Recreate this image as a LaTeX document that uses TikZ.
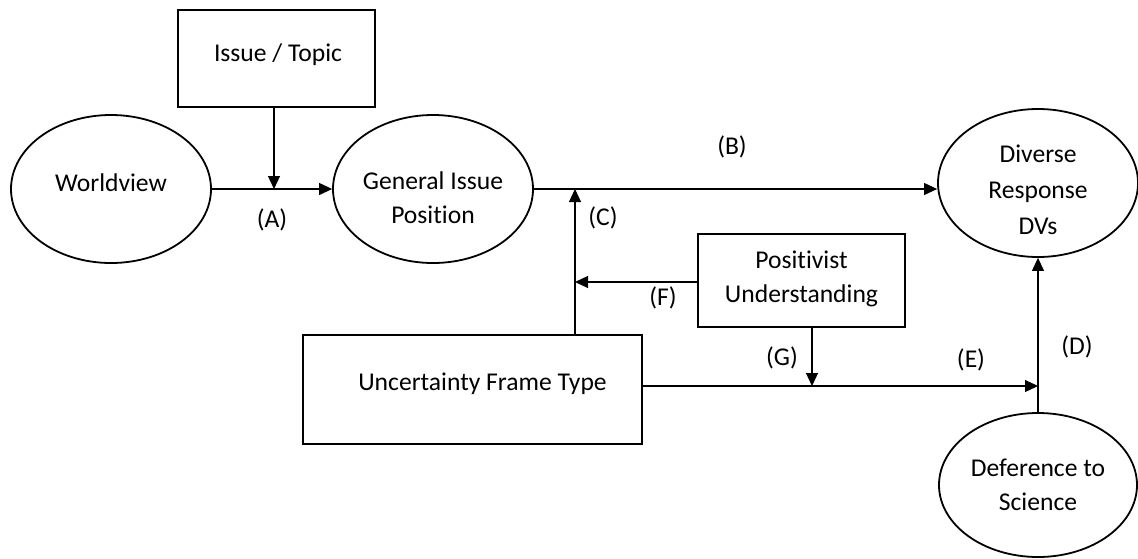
\documentclass[tikz,border=0pt]{standalone}
\usepackage{fontspec}
\setmainfont{Carlito}[Ligatures=NoCommon]
\usetikzlibrary{shapes.geometric,arrows.meta,calc}
\begin{document}
\begin{tikzpicture}[x=1pt,y=-1pt,
  every node/.style={font=\fontsize{25.6}{34}\selectfont},
  oval/.style={draw, ellipse, line width=1.8pt, minimum width=200pt, minimum height=148pt, inner sep=0pt},
  box/.style={draw, rectangle, line width=1.8pt, inner sep=0pt},
  txt/.style={align=center, inner sep=0pt},
  link/.style={line width=1.1pt},
  arr/.style={link, -{Triangle[length=13pt,width=12pt]}},
  tag/.style={inner sep=0pt}
]
\useasboundingbox (0,0) rectangle (1138,558);

% shapes
\node[oval] (wv)  at (111,189) {};
\node[oval] (gip) at (433,189) {};
\node[oval] (dvs) at (1038,183) {};
\node[oval, minimum width=198pt, minimum height=144pt] (def) at (1038,485) {};
\node[box, minimum width=197pt, minimum height=97pt]  (issue) at (276.5,58.5) {};
\node[box, minimum width=207pt, minimum height=93pt]  (pos)   at (801.5,280.5) {};
\node[box, minimum width=339pt, minimum height=109pt] (uft)   at (472.5,389.5) {};

% texts inside the shapes
\node[txt] (wv-t)    at ($(wv)+(0,-6)$)      {Worldview};
\node[txt] (gip-t)   at ($(gip)+(0,8.5)$)    {General Issue\\Position};
\node[txt] (dvs-t)   at ($(dvs)+(0,7)$)      {Diverse\\[2pt]Response\\[2pt]DVs};
\node[txt] (def-t)   at (def)                {Deference to\\Science};
\node[txt] (issue-t) at ($(issue)+(1.5,-3.5)$) {Issue / Topic};
\node[txt] (pos-t)   at ($(pos)+(0,-2)$)     {Positivist\\Understanding};
\node[txt] (uft-t)   at ($(uft)+(10,-6)$)    {Uncertainty Frame Type};

% junction points on the paths
\coordinate (ajoin) at (274,189);
\coordinate (cjoin) at (575,189);
\coordinate (fjoin) at (575,282);
\coordinate (gjoin) at (812,386);
\coordinate (ejoin) at (1038,386);

% connectors
\draw[arr] (wv.east) -- (gip.west);
\draw[arr] (issue.south -| ajoin) -- (ajoin);
\draw[arr] (gip.east) -- (gip.east -| dvs.west);
\draw[arr] (uft.north -| cjoin) -- (cjoin);
\draw[arr] (pos.west |- fjoin) -- (fjoin);
\draw[arr] (uft.east |- ejoin) -- (ejoin);
\draw[arr] (pos.south -| gjoin) -- (gjoin);
\draw[arr] (def.north) -- (dvs.south);

% path labels
\node[tag] (la) at (272,220)  {(A)};
\node[tag] (lb) at (732,147)  {(B)};
\node[tag] (lc) at (603,218)  {(C)};
\node[tag] (lf) at (663,298)  {(F)};
\node[tag] (lg) at (782,358)  {(G)};
\node[tag] (le) at (971,360)  {(E)};
\node[tag] (ld) at (1077,347) {(D)};
\end{tikzpicture}
\end{document}
